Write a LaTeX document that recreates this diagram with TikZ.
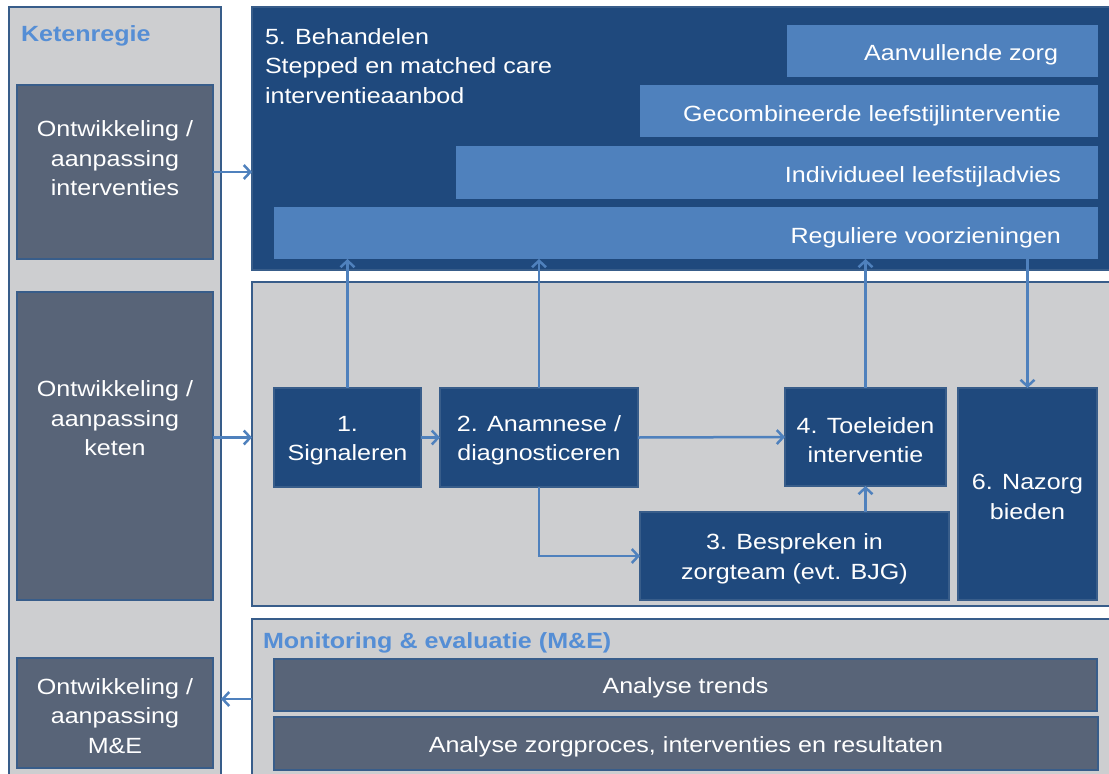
\documentclass[tikz,border=0pt]{standalone}
\usepackage{fontspec}
\setmainfont[FakeStretch=1.14]{Liberation Sans}
\usetikzlibrary{arrows.meta}
\definecolor{navy}{HTML}{1F497D}
\definecolor{lblue}{HTML}{4F81BD}
\definecolor{panelgray}{HTML}{CDCED0}
\definecolor{slate}{HTML}{586478}
\definecolor{bord}{HTML}{385D8A}
\definecolor{titleblue}{HTML}{558ED5}
\newcommand\mainfs{\fontsize{22}{29.5}\selectfont}
\newcommand\titlefs{\fontsize{22}{29}\selectfont\bfseries}
\begin{document}
\begin{tikzpicture}[x=1pt,y=-1pt,
  every node/.style={inner sep=0pt, outer sep=0pt},
  panel/.style={draw=bord, line width=2pt, fill=panelgray, anchor=north west},
  txt/.style={text=white, align=center, font=\mainfs},
  boxtxt/.style={txt, yshift=-3pt},
  t/.style={label={[boxtxt]center:{#1}}},
  navybox/.style={draw=bord, line width=2pt, fill=navy, anchor=north west},
  slatebox/.style={draw=bord, line width=2pt, fill=slate, anchor=north west},
  bar/.style={fill=lblue, anchor=north west},
  ttl/.style={text=titleblue, font=\titlefs, anchor=west},
  arr/.style={draw=lblue, line width=2.5pt, -{Straight Barb[length=6.5pt,width=14pt]}}
]
\clip (0,0) rectangle (1109,774);
\fill[white] (0,0) rectangle (1109,774);

% panels
\node[panel, minimum width=212pt, minimum height=800pt] (keten) at (9,7) {};
\node[panel, fill=navy, minimum width=880pt, minimum height=263pt] (behandel) at (252,7) {};
\node[panel, minimum width=880pt, minimum height=324pt] (proces) at (252,282) {};
\node[panel, minimum width=880pt, minimum height=200pt] (me) at (252,619) {};

\node[ttl] (ketentitle) at (21,35.5) {Ketenregie};
\node[ttl] (metitle) at (263,642.5) {Monitoring \& evaluatie (M\&E)};

% left boxes
\node[slatebox, minimum width=196pt, minimum height=174pt] (ontw1) at (17,85) {};
\node[txt] (ontw1txt) at (115,158.5) {Ontwikkeling /\\aanpassing\\interventies};
\node[slatebox, minimum width=196pt, minimum height=308pt] (ontw2) at (17,292) {};
\node[txt] (ontw2txt) at (115,418.5) {Ontwikkeling /\\aanpassing\\keten};
\node[slatebox, t={Ontwikkeling /\\aanpassing\\M\&E}, minimum width=196pt, minimum height=110pt] (ontw3) at (17,658) {};

% behandelen
\node[txt, align=left, anchor=north west] (behtxt) at (265,28.5) {5. Behandelen\\Stepped en matched care\\interventieaanbod};
\node[bar, minimum width=311pt, minimum height=52pt] (aanv) at (787,25) {};
\node[bar, minimum width=458pt, minimum height=52pt] (gecomb) at (640,85) {};
\node[bar, minimum width=642pt, minimum height=53pt] (indiv) at (456,146) {};
\node[bar, minimum width=824pt, minimum height=52pt] (regul) at (274,207) {};
\node[txt, anchor=east] (aanvtxt) at (1058,55) {Aanvullende zorg};
\node[txt, anchor=east] (gecombtxt) at (1061,115.5) {Gecombineerde leefstijlinterventie};
\node[txt, anchor=east] (indivtxt) at (1061,177) {Individueel leefstijladvies};
\node[txt, anchor=east] (regultxt) at (1061,237.5) {Reguliere voorzieningen};

% process boxes
\node[navybox, t={1.\\Signaleren}, minimum width=147pt, minimum height=99pt] (signal) at (274,388) {};
\node[navybox, t={2. Anamnese /\\diagnosticeren}, minimum width=198pt, minimum height=99pt] (anam) at (440,388) {};
\node[navybox, t={4. Toeleiden\\interventie}, minimum width=161pt, minimum height=98pt] (toel) at (785,388) {};
\node[navybox, t={3. Bespreken in\\zorgteam (evt. BJG)}, minimum width=309pt, minimum height=88pt] (bespr) at (640,512) {};
\node[navybox, t={6. Nazorg\\bieden}, minimum width=139pt, minimum height=212pt] (nazorg) at (958,388) {};

% M&E bars
\node[slatebox, t={Analyse trends}, minimum width=823pt, minimum height=52pt] (trends) at (274,659) {};
\node[slatebox, t={Analyse zorgproces, interventies en resultaten}, minimum width=824pt, minimum height=53pt] (zorgp) at (274,717) {};

% arrows
\draw[arr] (ontw1.east) -- (ontw1.east -| behandel.west);
\draw[arr] (ontw2.east |- signal.west) -- (signal.west -| proces.west);
\coordinate (mearr) at (252,699);
\draw[arr] (mearr) -- (mearr -| keten.east);
\draw[arr] (signal.north) -- (signal.north |- regul.south);
\draw[arr] (anam.north) -- (anam.north |- regul.south);
\draw[arr] (toel.north) -- (toel.north |- regul.south);
\draw[arr] (nazorg.north |- regul.south) -- (nazorg.north);
\draw[arr] (signal.east) -- (anam.west);
\draw[arr] (anam.east) -- (toel.west);
\draw[arr] (anam.south) |- (bespr.west);
\draw[arr] (toel.south |- bespr.north) -- (toel.south);
\end{tikzpicture}
\end{document}
